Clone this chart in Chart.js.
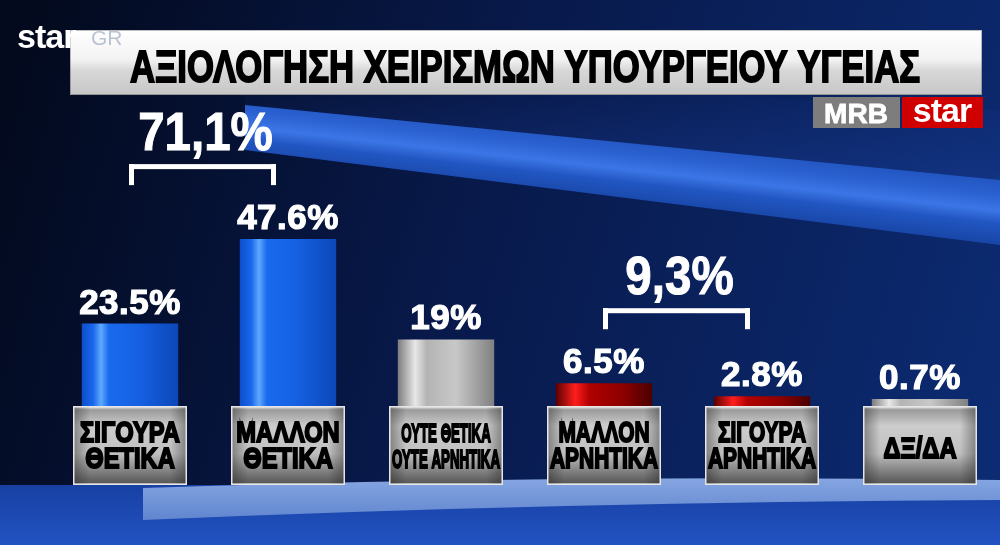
<!DOCTYPE html>
<html>
<head>
<meta charset="utf-8">
<script src="https://cdn.jsdelivr.net/npm/chart.js@4.4.0/dist/chart.umd.min.js"></script>
<style>
  html, body { margin: 0; padding: 0; background: #061534; }
  #chart { display: block; }
</style>
</head>
<body>
<canvas id="chart" width="1000" height="545"></canvas>
<script>
// data
const categories = [
    ['ΣΙΓΟΥΡΑ', 'ΘΕΤΙΚΑ'],
    ['ΜΑΛΛΟΝ', 'ΘΕΤΙΚΑ'],
    ['ΟΥΤΕ ΘΕΤΙΚΑ', 'ΟΥΤΕ ΑΡΝΗΤΙΚΑ'],
    ['ΜΑΛΛΟΝ', 'ΑΡΝΗΤΙΚΑ'],
    ['ΣΙΓΟΥΡΑ', 'ΑΡΝΗΤΙΚΑ'],
    ['ΔΞ/ΔΑ']
];
const values = [23.5, 47.6, 19, 6.5, 2.8, 0.7];
// bracketed totals: pairs of category indexes
const groups = [[0, 1], [3, 4]];
const title = 'ΑΞΙΟΛΟΓΗΣΗ ΧΕΙΡΙΣΜΩΝ ΥΠΟΥΡΓΕΙΟΥ ΥΓΕΙΑΣ';

// styles
const tones = ['blue', 'blue', 'silver', 'red', 'red', 'silver'];
const toneStops = {
    blue:   [[0, '#0d4ecb'], [0.12, '#1a68ec'], [0.2, '#5fa9ff'], [0.28, '#1a6aee'], [0.6, '#1560e2'], [1, '#0c47b8']],
    silver: [[0, '#7c7c7c'], [0.18, '#e8e8e8'], [0.3, '#b4b4b4'], [0.6, '#c8c8c8'], [1, '#808080']],
    red:    [[0, '#5a0000'], [0.2, '#ff1e1e'], [0.35, '#b00000'], [0.7, '#8c0000'], [1, '#4a0000']]
};
const BAR_PCT = 0.61;
const FONT = '"Liberation Sans", Arial, sans-serif';

function barFill(c) {
    const chart = c.chart;
    const area = chart.chartArea;
    if (!area || c.type !== 'data') return '#1560e0';
    const x = chart.scales.x.getPixelForValue(c.dataIndex);
    const w = area.width / categories.length * BAR_PCT;
    const g = chart.ctx.createLinearGradient(x - w / 2, 0, x + w / 2, 0);
    toneStops[tones[c.dataIndex]].forEach(s => g.addColorStop(s[0], s[1]));
    return g;
}

function drawBackground(ctx, W, H) {
    let g = ctx.createLinearGradient(0, 120, 1000, 420);
    g.addColorStop(0, '#030a1e');
    g.addColorStop(0.45, '#08194a');
    g.addColorStop(1, '#0c2b72');
    ctx.fillStyle = g;
    ctx.fillRect(0, 0, W, H);

    // faint lighter area above the band
    g = ctx.createLinearGradient(0, 80, 0, 180);
    g.addColorStop(0, 'rgba(30,70,170,0)');
    g.addColorStop(1, 'rgba(30,70,170,0.35)');
    ctx.fillStyle = g;
    ctx.beginPath();
    ctx.moveTo(245, 70); ctx.lineTo(1000, 110); ctx.lineTo(1000, 182); ctx.lineTo(245, 106);
    ctx.closePath(); ctx.fill();

    // bright diagonal band
    g = ctx.createLinearGradient(620, 125, 610, 215);
    g.addColorStop(0, '#1a4cb4');
    g.addColorStop(0.3, '#2a60d0');
    g.addColorStop(0.48, '#3c76e6');
    g.addColorStop(0.62, '#2156c2');
    g.addColorStop(1, '#133b94');
    ctx.fillStyle = g;
    ctx.beginPath();
    ctx.moveTo(245, 105); ctx.lineTo(1000, 180); ctx.lineTo(1000, 245); ctx.lineTo(245, 150);
    ctx.closePath(); ctx.fill();

    // floor
    g = ctx.createLinearGradient(0, 480, 0, 545);
    g.addColorStop(0, '#173fa0');
    g.addColorStop(1, '#2252c2');
    ctx.fillStyle = g;
    ctx.fillRect(0, 485, W, H - 485);

    g = ctx.createLinearGradient(0, 478, 0, 522);
    g.addColorStop(0, '#86a6e2');
    g.addColorStop(1, '#5f84ce');
    ctx.fillStyle = g;
    ctx.beginPath();
    ctx.moveTo(143, 488);
    ctx.quadraticCurveTo(560, 474, 1000, 480);
    ctx.lineTo(1000, 500);
    ctx.quadraticCurveTo(560, 502, 143, 520);
    ctx.closePath(); ctx.fill();
}

function drawBanner(ctx) {
    const g = ctx.createLinearGradient(0, 30, 0, 95);
    g.addColorStop(0, '#ffffff');
    g.addColorStop(0.45, '#f3f3f3');
    g.addColorStop(0.62, '#d8d8d8');
    g.addColorStop(1, '#c6c6c6');
    ctx.fillStyle = g;
    ctx.fillRect(70, 30, 912, 65);
    ctx.strokeStyle = 'rgba(0,0,0,0.25)';
    ctx.lineWidth = 1;
    ctx.strokeRect(70.5, 30.5, 911, 64);

    ctx.save();
    ctx.font = 'bold 44px ' + FONT;
    const w = ctx.measureText(title).width;
    ctx.translate(525, 82);
    ctx.scale(790 / w, 1);
    ctx.textAlign = 'center';
    ctx.fillStyle = '#000';
    ctx.strokeStyle = '#000';
    ctx.lineWidth = 1.8;
    ctx.fillText(title, 0, 0);
    ctx.strokeText(title, 0, 0);
    ctx.restore();

    // channel logo
    ctx.fillStyle = '#ffffff';
    ctx.textAlign = 'left';
    ctx.font = 'bold 34px ' + FONT;
    ctx.letterSpacing = '-1px';
    ctx.fillText('star', 17, 48);
    ctx.letterSpacing = '0px';
    ctx.fillStyle = 'rgba(170,180,200,0.8)';
    ctx.font = '21px ' + FONT;
    ctx.fillText('GR', 91, 45);

    // poll company badge
    ctx.fillStyle = '#7d7d7d';
    ctx.fillRect(813, 97, 87, 31);
    ctx.fillStyle = '#d10000';
    ctx.fillRect(902, 97, 81, 31);
    ctx.fillStyle = '#ffffff';
    ctx.strokeStyle = '#ffffff';
    ctx.textAlign = 'center';
    ctx.lineWidth = 0.8;
    ctx.font = 'bold 28px ' + FONT;
    ctx.fillText('MRB', 856, 123);
    ctx.strokeText('MRB', 856, 123);
    ctx.font = 'bold 34px ' + FONT;
    ctx.letterSpacing = '-1px';
    ctx.fillText('star', 942, 122);
    ctx.letterSpacing = '0px';
}

function condensed(ctx, text, cx, y, font, sx, stroke) {
    ctx.save();
    ctx.translate(cx, y);
    ctx.scale(sx, 1);
    ctx.font = font;
    ctx.textAlign = 'center';
    ctx.fillText(text, 0, 0);
    if (stroke) {
        ctx.lineWidth = stroke;
        ctx.strokeText(text, 0, 0);
    }
    ctx.restore();
}

function drawLabelBox(ctx, cx, lines) {
    const x = cx - 57, y = 406, w = 114, h = 79;
    let g = ctx.createLinearGradient(0, y, 0, y + h);
    g.addColorStop(0, '#f2f2f2');
    g.addColorStop(0.05, '#9a9a9a');
    g.addColorStop(0.25, '#cdcdcd');
    g.addColorStop(0.6, '#c0c0c0');
    g.addColorStop(0.9, '#6c6c6c');
    g.addColorStop(0.97, '#5a5a5a');
    g.addColorStop(1, '#e0e0e0');
    ctx.fillStyle = g;
    ctx.fillRect(x, y, w, h);
    g = ctx.createLinearGradient(x, 0, x + w, 0);
    g.addColorStop(0, 'rgba(40,40,40,0.45)');
    g.addColorStop(0.15, 'rgba(40,40,40,0)');
    g.addColorStop(0.85, 'rgba(40,40,40,0)');
    g.addColorStop(1, 'rgba(40,40,40,0.45)');
    ctx.fillStyle = g;
    ctx.fillRect(x, y, w, h);
    ctx.strokeStyle = '#e6e6e6';
    ctx.lineWidth = 1.5;
    ctx.strokeRect(x + 0.75, y + 0.75, w - 1.5, h - 1.5);

    const long = lines.some(l => l.length > 9);
    const size = long ? 25 : 30;
    const font = 'bold ' + size + 'px ' + FONT;
    ctx.font = font;
    const natural = Math.max(...lines.map(l => ctx.measureText(l).width));
    const sx = Math.min(0.79, 108 / natural);
    ctx.fillStyle = '#000';
    ctx.strokeStyle = '#000';
    const cy = y + h / 2;
    if (lines.length === 1) {
        condensed(ctx, lines[0], cx, cy + 12.5, font, sx, 2);
    } else {
        condensed(ctx, lines[0], cx, cy - 3.5, font, sx, 2);
        condensed(ctx, lines[1], cx, cy + 22, font, sx, 2);
    }
}

const decor = {
    id: 'decor',
    beforeDraw(chart) {
        const ctx = chart.ctx;
        ctx.save();
        drawBackground(ctx, chart.width, chart.height);
        drawBanner(ctx);
        ctx.restore();
    },
    afterDatasetsDraw(chart) {
        const ctx = chart.ctx;
        const meta = chart.getDatasetMeta(0);
        const xs = chart.scales.x;
        ctx.save();
        categories.forEach((lines, i) => drawLabelBox(ctx, xs.getPixelForValue(i), lines));

        // value labels
        ctx.fillStyle = '#ffffff';
        ctx.strokeStyle = '#ffffff';
        ctx.lineWidth = 1.2;
        ctx.textAlign = 'center';
        ctx.font = 'bold 35px ' + FONT;
        ctx.letterSpacing = '0.5px';
        values.forEach((v, i) => {
            const t = v + '%';
            ctx.fillText(t, meta.data[i].x, meta.data[i].y - 10);
            ctx.strokeText(t, meta.data[i].x, meta.data[i].y - 10);
        });
        ctx.letterSpacing = '0px';

        // brackets with totals
        groups.forEach(([a, b]) => {
            const left = xs.getPixelForValue(a) - 1;
            const right = xs.getPixelForValue(b) - 12;
            const top = Math.min(meta.data[a].y, meta.data[b].y) - 75;
            ctx.fillStyle = '#ffffff';
            ctx.strokeStyle = '#ffffff';
            ctx.fillRect(left, top, right - left, 5);
            ctx.fillRect(left, top, 5, 21);
            ctx.fillRect(right - 5, top, 5, 21);
            const total = (values[a] + values[b]).toFixed(1).replace('.', ',') + '%';
            condensed(ctx, total, (left + right) / 2 + 3, top - 14, 'bold 54px ' + FONT, 0.88, 1);
        });
        ctx.restore();
    }
};

new Chart(document.getElementById('chart'), {
    type: 'bar',
    data: {
        labels: categories.map(l => l.join(' ')),
        datasets: [{
            data: values,
            backgroundColor: barFill,
            borderWidth: 0,
            minBarLength: 7,
            barPercentage: BAR_PCT,
            categoryPercentage: 1
        }]
    },
    options: {
        responsive: false,
        animation: false,
        devicePixelRatio: 1,
        layout: { padding: { left: 51, right: 1, top: 108, bottom: 139 } },
        scales: {
            x: { display: false },
            y: { display: false, min: 0, max: 85 }
        },
        plugins: {
            legend: { display: false },
            tooltip: { enabled: false },
            title: { display: false }
        }
    },
    plugins: [decor]
});
</script>
</body>
</html>
